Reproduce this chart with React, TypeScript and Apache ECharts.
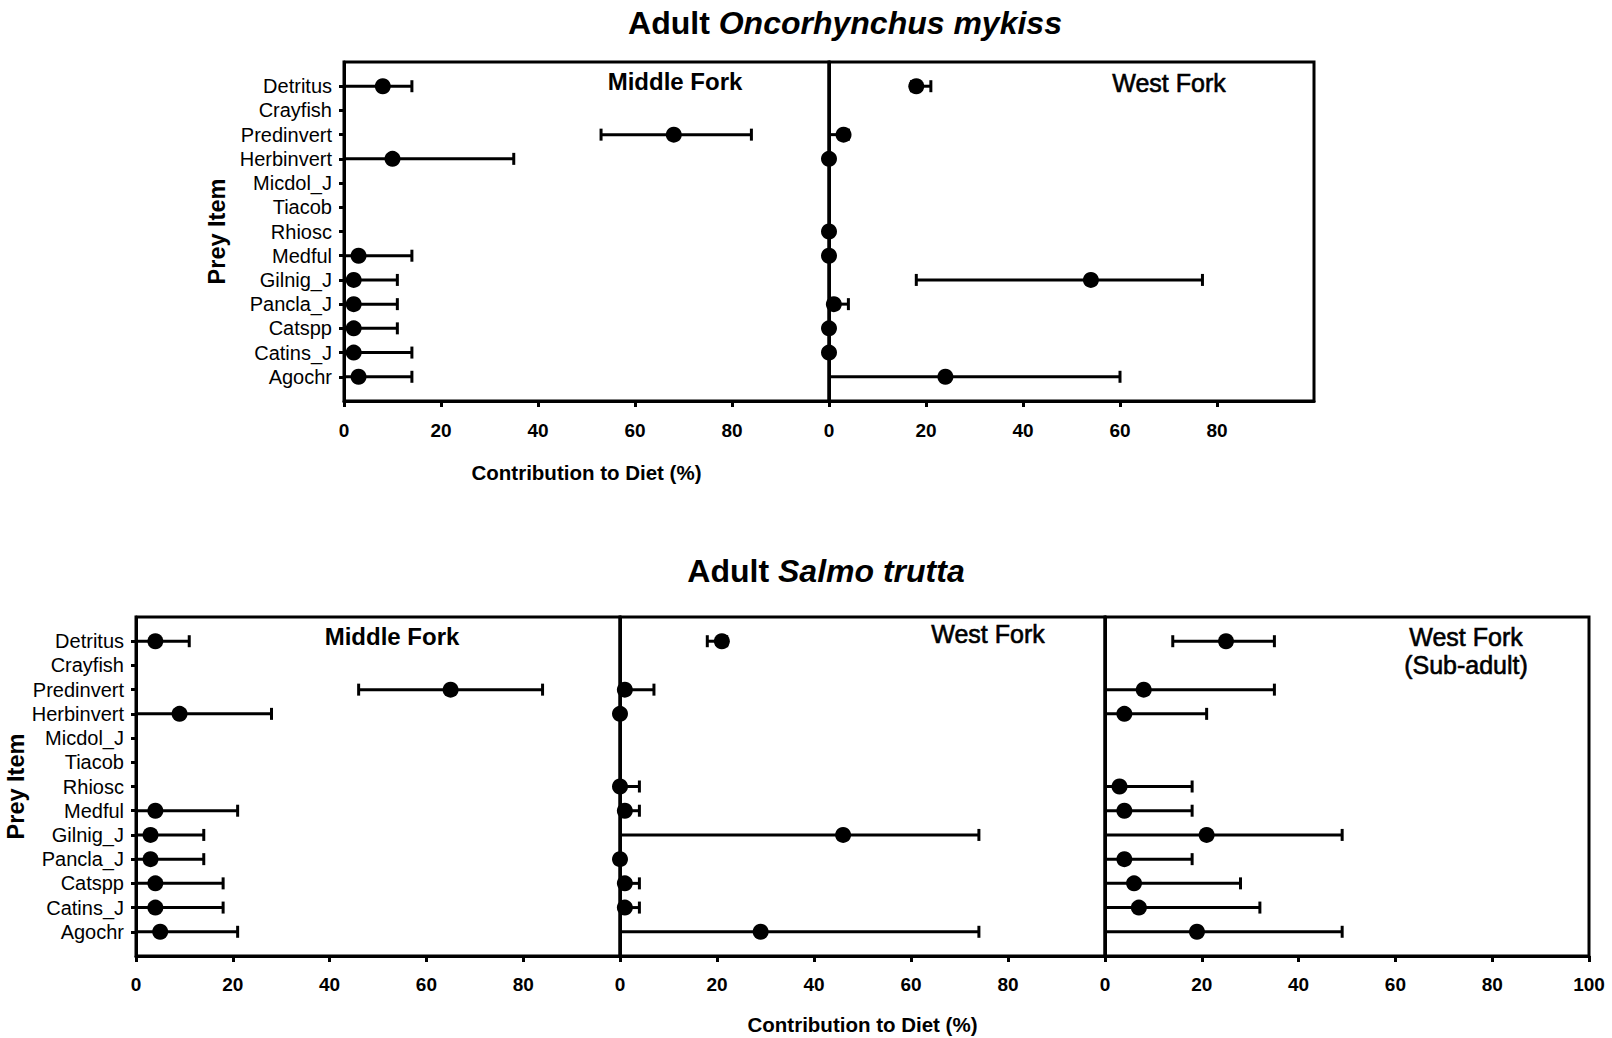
import React, { useEffect, useRef } from 'react';
import * as echarts from 'echarts';

const categories = ['Detritus', 'Crayfish', 'Predinvert', 'Herbinvert', 'Micdol_J', 'Tiacob', 'Rhiosc', 'Medful', 'Gilnig_J', 'Pancla_J', 'Catspp', 'Catins_J', 'Agochr'];
const xTicks = [0, 20, 40, 60, 80, 100];

// Adult Oncorhynchus mykiss
const omMiddleMean = [8, null, 68, 10, null, null, null, 3, 2, 2, 2, 2, 3];
const omMiddleLow = [0, null, 53, 0, null, null, null, 0, 0, 0, 0, 0, 0];
const omMiddleHigh = [14, null, 84, 35, null, null, null, 14, 11, 11, 11, 14, 14];

const omWestMean = [18, null, 3, 0, null, null, 0, 0, 54, 1, 0, 0, 24];
const omWestLow = [17, null, 0, 0, null, null, 0, 0, 18, 0, 0, 0, 0];
const omWestHigh = [21, null, 4, 0, null, null, 0, 0, 77, 4, 0, 0, 60];

// Adult Salmo trutta
const stMiddleMean = [4, null, 65, 9, null, null, null, 4, 3, 3, 4, 4, 5];
const stMiddleLow = [0, null, 46, 0, null, null, null, 0, 0, 0, 0, 0, 0];
const stMiddleHigh = [11, null, 84, 28, null, null, null, 21, 14, 14, 18, 18, 21];

const stWestMean = [21, null, 1, 0, null, null, 0, 1, 46, 0, 1, 1, 29];
const stWestLow = [18, null, 0, 0, null, null, 0, 0, 0, 0, 0, 0, 0];
const stWestHigh = [22, null, 7, 0, null, null, 4, 4, 74, 0, 4, 4, 74];

const stSubMean = [25, null, 8, 4, null, null, 3, 4, 21, 4, 6, 7, 19];
const stSubLow = [14, null, 0, 0, null, null, 0, 0, 0, 0, 0, 0, 0];
const stSubHigh = [35, null, 35, 21, null, null, 18, 18, 49, 18, 28, 32, 49];

const FONT = "'Liberation Sans', Arial, sans-serif";

type Panel = {
  mean: (number | null)[];
  low: (number | null)[];
  high: (number | null)[];
  left: number;
  top: number;
  width: number;
  height: number;
  yLabels: boolean;
  yNameGap?: number;
  xNameGap?: number;
  labelMargin: number;
  last100: boolean;
};

const panels: Panel[] = [
  { mean: omMiddleMean, low: omMiddleLow, high: omMiddleHigh, left: 344, top: 62, width: 485, height: 339, yLabels: true, yNameGap: 115, xNameGap: 61, labelMargin: 20, last100: false },
  { mean: omWestMean, low: omWestLow, high: omWestHigh, left: 829, top: 62, width: 485, height: 339, yLabels: false, labelMargin: 20, last100: false },
  { mean: stMiddleMean, low: stMiddleLow, high: stMiddleHigh, left: 136, top: 617, width: 484, height: 339, yLabels: true, yNameGap: 103, labelMargin: 19, last100: false },
  { mean: stWestMean, low: stWestLow, high: stWestHigh, left: 620, top: 617, width: 485, height: 339, yLabels: false, xNameGap: 58, labelMargin: 19, last100: false },
  { mean: stSubMean, low: stSubLow, high: stSubHigh, left: 1105, top: 617, width: 484, height: 339, yLabels: false, labelMargin: 19, last100: true },
];

export default function App() {
  const ref = useRef<HTMLDivElement>(null);
  useEffect(() => {
    const chart = echarts.init(ref.current!, null, { renderer: 'svg' });
    const axisLineStyle = { color: '#000', width: 3 };
    const grid = panels.map((p) => ({
      left: p.left, top: p.top, width: p.width, height: p.height,
      show: true, borderColor: '#000', borderWidth: 3, backgroundColor: 'transparent',
      containLabel: false, outerBoundsMode: 'none',
    }));
    const xAxis = panels.map((p, i) => ({
      type: 'value', gridIndex: i, min: xTicks[0], max: xTicks[xTicks.length - 1], interval: 20,
      axisLine: { show: true, onZero: false, lineStyle: axisLineStyle },
      axisTick: { show: true, length: 6, lineStyle: axisLineStyle },
      splitLine: { show: false },
      axisLabel: {
        show: true, margin: p.labelMargin, color: '#000', fontSize: 19, fontWeight: 'bold', fontFamily: FONT,
        showMaxLabel: p.last100,
        formatter: (v: number) => (v === 100 && !p.last100 ? '' : String(v)),
      },
      name: p.xNameGap ? 'Contribution to Diet (%)' : '',
      nameLocation: 'middle', nameGap: p.xNameGap || 0,
      nameTextStyle: { color: '#000', fontSize: 20.5, fontWeight: 'bold', fontFamily: FONT },
    }));
    const yAxis = panels.map((p, i) => ({
      type: 'value', gridIndex: i, min: 0, max: 14, interval: 1, inverse: true,
      axisLine: { show: true, onZero: false, lineStyle: axisLineStyle },
      axisTick: { show: p.yLabels, length: 5, lineStyle: axisLineStyle },
      splitLine: { show: false },
      axisLabel: {
        show: p.yLabels, margin: 12, color: '#000', fontSize: 20, fontFamily: FONT,
        showMinLabel: false, showMaxLabel: false,
        formatter: (v: number) => categories[v - 1] ?? '',
      },
      name: p.yNameGap ? 'Prey Item' : '',
      nameLocation: 'middle', nameGap: p.yNameGap || 0, nameRotate: 90,
      nameTextStyle: { color: '#000', fontSize: 23.5, fontWeight: 'bold', fontFamily: FONT },
    }));
    const series: any[] = [];
    panels.forEach((p, i) => {
      const errData: number[][] = [];
      const dotData: number[][] = [];
      categories.forEach((_, k) => {
        const m = p.mean[k];
        const lo = p.low[k];
        const hi = p.high[k];
        if (m != null) dotData.push([m, k + 1]);
        if (lo != null && hi != null && hi > lo) errData.push([lo, hi, k + 1]);
      });
      series.push({
        type: 'custom', xAxisIndex: i, yAxisIndex: i, clip: false, z: 2,
        encode: { x: [0, 1], y: 2 },
        data: errData,
        renderItem: (params: any, api: any) => {
          const y = api.value(2);
          const loV = api.value(0);
          const hiV = api.value(1);
          const a = api.coord([loV, y]);
          const b = api.coord([hiV, y]);
          const style = { stroke: '#000', lineWidth: 3 };
          const children: any[] = [
            { type: 'line', shape: { x1: a[0], y1: a[1], x2: b[0], y2: b[1] }, style },
          ];
          const h = 6;
          if (loV > 0) children.push({ type: 'line', shape: { x1: a[0], y1: a[1] - h, x2: a[0], y2: a[1] + h }, style });
          if (hiV > 0) children.push({ type: 'line', shape: { x1: b[0], y1: b[1] - h, x2: b[0], y2: b[1] + h }, style });
          return { type: 'group', children };
        },
      });
      series.push({
        type: 'scatter', xAxisIndex: i, yAxisIndex: i, clip: false, z: 3,
        symbol: 'circle', symbolSize: 16, itemStyle: { color: '#000', opacity: 1 },
        emphasis: { disabled: true },
        data: dotData,
      });
    });

    const txt = (x: number, y: number, text: string, size: number, weight: string, strokeW = 0) => ({
      type: 'text', x, y, z: 10,
      style: {
        text, fill: '#000', font: `${weight} ${size}px ${FONT}`,
        stroke: strokeW > 0 ? '#000' : undefined, lineWidth: strokeW,
        textAlign: 'center', textVerticalAlign: 'middle', align: 'center', verticalAlign: 'middle',
      },
    });
    const titleText = (x: number, y: number, plain: string, ital: string) => ({
      type: 'text', x, y, z: 10,
      style: {
        text: `{a|${plain}}{b|${ital}}`,
        rich: {
          a: { fontFamily: FONT, fontSize: 32, fontWeight: 'bold', fill: '#000', color: '#000' },
          b: { fontFamily: FONT, fontSize: 32, fontWeight: 'bold', fontStyle: 'italic', fill: '#000', color: '#000' },
        },
        textAlign: 'center', textVerticalAlign: 'middle', align: 'center', verticalAlign: 'middle',
      },
    });

    chart.setOption({
      animation: false,
      backgroundColor: '#fff',
      grid, xAxis, yAxis, series,
      graphic: [
        titleText(845, 23, 'Adult ', 'Oncorhynchus mykiss'),
        titleText(826, 571, 'Adult ', 'Salmo trutta'),
        txt(675, 81, 'Middle Fork', 24, 'bold'),
        txt(1169, 83, 'West Fork', 25, 'normal', 0.6),
        txt(392, 636, 'Middle Fork', 24, 'bold'),
        txt(988, 634, 'West Fork', 25, 'normal', 0.6),
        txt(1466, 637, 'West Fork', 25, 'normal', 0.6),
        txt(1466, 665, '(Sub-adult)', 25, 'normal', 0.6),
      ],
    });
    return () => chart.dispose();
  }, []);
  return <div ref={ref} style={{ position: 'absolute', left: 0, top: 0, width: 1612, height: 1038 }} />;
}
